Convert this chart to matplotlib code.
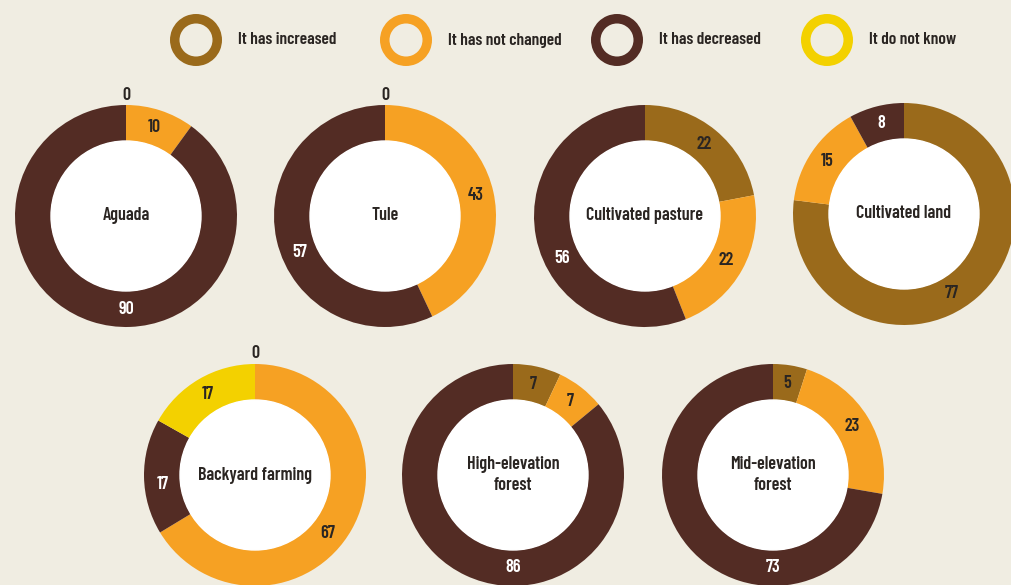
import matplotlib
matplotlib.use("Agg")
import matplotlib.pyplot as plt
import numpy as np

# ---- data ----
categories = ["It has increased", "It has not changed", "It has decreased", "It do not know"]
colors = ["#9a6a1b", "#f6a123", "#532c24", "#f3d100"]
land_uses = ["Aguada", "Tule", "Cultivated pasture", "Cultivated land",
             "Backyard farming", "High-elevation\nforest", "Mid-elevation\nforest"]
increased = [0, 0, 22, 77, 0, 7, 5]
not_changed = [10, 43, 22, 15, 67, 7, 23]
decreased = [90, 57, 56, 8, 17, 86, 73]
do_not_know = [0, 0, 0, 0, 17, 0, 0]

# ---- layout (pixels, from top-left) ----
W, H = 1011, 585
centers = [(126, 216), (385, 216), (645, 216), (904, 214),
           (255, 475), (513, 475), (773, 475)]
R_OUT, R_IN = 111, 75
BG = "#f0ede2"
DARK = "#2a2522"
# label angle (degrees clockwise from 12 o'clock) where the original places
# a label away from the slice middle
label_angle_override = {
    (0, 2): 180, (1, 2): 247, (2, 2): 243, (3, 0): 149,
    (4, 1): 129, (4, 2): 264, (5, 2): 180, (6, 2): 180,
}

plt.rcParams["font.family"] = ["Barlow Condensed", "DejaVu Sans"]

fig = plt.figure(figsize=(W / 100, H / 100), dpi=100, facecolor=BG)
ax = fig.add_axes([0, 0, 1, 1])
ax.set_facecolor(BG)

series = [increased, not_changed, decreased, do_not_know]
for i, name in enumerate(land_uses):
    vals = [s[i] for s in series]
    cx, cy = centers[i]
    cy = H - cy
    ax.pie(vals, colors=colors, radius=R_OUT, center=(cx, cy), startangle=90,
           counterclock=False, frame=True,
           wedgeprops=dict(width=R_OUT - R_IN, linewidth=0))
    ax.add_patch(plt.Circle((cx, cy), R_IN, color="white", zorder=3))
    ax.text(cx, cy, name, ha="center", va="center", fontsize=13,
            fontweight="semibold", color=DARK, zorder=4, linespacing=1.25)
    total = sum(vals)
    start = 0.0
    for k, v in enumerate(vals):
        if v == 0 and k > 0:
            start += v
            continue
        mid = (start + v / 2) / total * 360.0
        mid = label_angle_override.get((i, k), mid)
        ang = np.deg2rad(90 - mid)
        if v == 0:
            r = R_OUT + 10
            col = DARK
        else:
            r = (R_OUT + R_IN) / 2
            col = "white" if k == 2 else DARK
        ax.text(cx + r * np.cos(ang), cy + r * np.sin(ang), str(v),
                ha="center", va="center", fontsize=13, fontweight="semibold",
                color=col, zorder=5)
        start += v

# legend
leg_x = [196, 406, 617, 827]
leg_y = H - 40
for k, lab in enumerate(categories):
    ax.pie([1], colors=[colors[k]], radius=26, center=(leg_x[k], leg_y),
           frame=True, wedgeprops=dict(width=9.5, linewidth=0))
    ax.text(leg_x[k] + 42, leg_y, lab, ha="left", va="center", fontsize=12.5,
            fontweight="semibold", color=DARK)

ax.set_xlim(0, W)
ax.set_ylim(0, H)
ax.set_aspect("auto")
ax.axis("off")
fig.savefig("out.png", dpi=100, facecolor=BG)
